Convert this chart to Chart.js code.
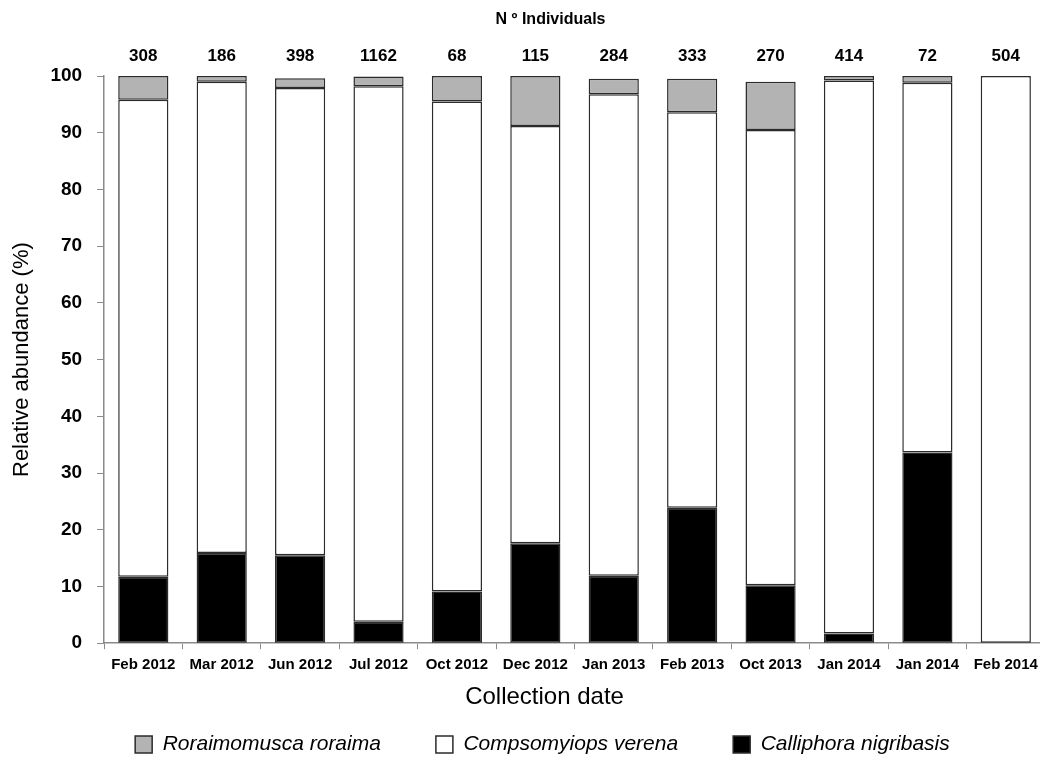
<!DOCTYPE html>
<html>
<head>
<meta charset="utf-8">
<script src="https://cdn.jsdelivr.net/npm/chart.js@4.4.1/dist/chart.umd.min.js"></script>
<style>
  html, body { margin: 0; padding: 0; background: #fff; overflow: hidden; }
  canvas { display: block; }
</style>
</head>
<body>
<canvas id="abundanceChart" width="1060" height="765"></canvas>
<script>
// collection dates (x categories)
const dates = ['Feb 2012', 'Mar 2012', 'Jun 2012', 'Jul 2012', 'Oct 2012', 'Dec 2012',
  'Jan 2013', 'Feb 2013', 'Oct 2013', 'Jan 2014', 'Jan 2014', 'Feb 2014'];

// number of individuals collected, shown above each bar
const individuals = [308, 186, 398, 1162, 68, 115, 284, 333, 270, 414, 72, 504];

// relative abundance (%) per species
const calliphora = [11.7, 15.9, 15.5, 3.8, 9.1, 17.6, 11.9, 23.9, 10.2, 1.7, 33.6, 0];
const compsomyiops = [84.1, 83.1, 82.4, 94.4, 86.4, 73.6, 84.9, 69.7, 80.3, 97.5, 65.2, 100];
const roraimomusca = [4.2, 1.0, 1.7, 1.7, 4.5, 8.8, 2.7, 5.9, 8.5, 0.8, 1.2, 0];

const yTicks = [0, 10, 20, 30, 40, 50, 60, 70, 80, 90, 100];

const sans = "'Liberation Sans', Arial, sans-serif";
const axisGray = '#8a8a8a';

// counts above the bars + the "N º Individuals" heading
const countLabels = {
  id: 'countLabels',
  afterDatasetsDraw(chart) {
    const { ctx, scales: { x, y } } = chart;
    ctx.save();
    ctx.fillStyle = '#000';
    ctx.textAlign = 'center';
    ctx.textBaseline = 'middle';
    ctx.font = 'bold 17px ' + sans;
    individuals.forEach((n, i) => {
      ctx.fillText(String(n), x.getPixelForValue(i), y.top - 20);
    });
    ctx.font = 'bold 16px ' + sans;
    ctx.fillText('N º Individuals', (x.getPixelForValue(5) + x.getPixelForValue(6)) / 2 - 24, 20);
    ctx.restore();
  }
};

const common = {
  borderColor: '#2b2b2b',
  borderWidth: 1.5,
  borderSkipped: false,
  barPercentage: 0.64,
  categoryPercentage: 1.0
};

new Chart(document.getElementById('abundanceChart'), {
  type: 'bar',
  data: {
    labels: dates,
    datasets: [
      Object.assign({ label: 'Calliphora nigribasis', data: calliphora, backgroundColor: '#000' }, common),
      Object.assign({ label: 'Compsomyiops verena', data: compsomyiops, backgroundColor: '#fff' }, common),
      Object.assign({ label: 'Roraimomusca roraima', data: roraimomusca, backgroundColor: '#b3b3b3' }, common)
    ]
  },
  options: {
    responsive: false,
    animation: false,
    devicePixelRatio: 1,
    layout: { padding: { top: 76, left: 9, right: 15, bottom: 0 } },
    plugins: {
      legend: {
        position: 'bottom',
        fullSize: false,
        reverse: true,
        labels: {
          boxWidth: 17,
          boxHeight: 17,
          padding: 20,
          color: '#000',
          font: { family: sans, size: 21, style: 'italic' },
          // wider gaps between the three entries, as in the original
          generateLabels(chart) {
            const items = Chart.defaults.plugins.legend.labels.generateLabels(chart);
            items.forEach((it, i) => { it.text += i === 0 ? '           ' : '      '; });
            return items;
          }
        }
      },
      tooltip: { enabled: false }
    },
    scales: {
      x: {
        stacked: true,
        border: { color: axisGray, width: 1.5 },
        grid: { display: true, drawOnChartArea: false, color: axisGray, tickLength: 6, offset: true },
        ticks: {
          color: '#000', padding: 7, maxRotation: 0, minRotation: 0, autoSkip: false,
          font: { family: sans, size: 15, weight: 'bold' }
        },
        title: {
          display: true,
          text: 'Collection date         ',
          color: '#000',
          padding: { top: 2, bottom: 2 },
          font: { family: sans, size: 24 }
        }
      },
      y: {
        stacked: true,
        min: 0,
        max: 100,
        afterBuildTicks(axis) { axis.ticks = yTicks.map(v => ({ value: v })); },
        border: { color: axisGray, width: 1.5 },
        grid: { display: true, drawOnChartArea: false, color: axisGray, tickLength: 7 },
        ticks: { color: '#000', padding: 15, font: { family: sans, size: 19, weight: 'bold' } },
        title: {
          display: true,
          text: 'Relative abundance (%)',
          color: '#000',
          padding: { top: 0, bottom: 0 },
          font: { family: sans, size: 22 }
        }
      }
    }
  },
  plugins: [countLabels]
});
</script>
</body>
</html>
